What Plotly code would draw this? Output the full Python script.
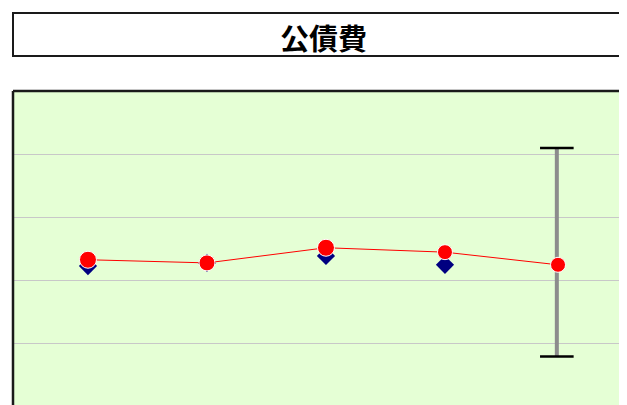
import plotly.graph_objects as go

title_text = "公債費"
categories = ["1", "2", "3", "4", "5"]
x_pos = [1, 2, 3, 4]
x_red = [1, 2, 3, 4, 4.95]
blue_values = [22.3, 22.8, 23.9, 22.5]
red_values = [23.3, 22.8, 25.2, 24.5, 22.5]
err_x = [4.94]
err_center = [22.5]
err_plus = [18.5]
err_minus = [14.5]

OFF = 8  # default page body margin
W, H = 627 - OFF, 405 - OFF
fig = go.Figure()

# error bar (gray stem)
fig.add_trace(go.Scatter(
    x=err_x, y=err_center, mode="markers",
    marker=dict(size=1, color="rgba(0,0,0,0)"),
    error_y=dict(type="data", symmetric=False, array=err_plus, arrayminus=err_minus,
                 color="#8C8C8C", thickness=4, width=0),
    showlegend=False, hoverinfo="skip"))
# caps
fig.add_trace(go.Scatter(
    x=err_x * 2,
    y=[err_center[0] + err_plus[0], err_center[0] - err_minus[0]],
    mode="markers",
    marker=dict(symbol="line-ew", size=24, line=dict(color="black", width=2.5)),
    showlegend=False, hoverinfo="skip"))

fig.add_trace(go.Scatter(
    x=x_pos, y=blue_values, mode="markers",
    marker=dict(symbol="diamond", size=14, color="#000080", opacity=1),
    showlegend=False))

fig.add_trace(go.Scatter(
    x=x_red, y=red_values, mode="lines+markers",
    line=dict(color="red", width=1),
    marker=dict(symbol="circle", size=[17, 16, 17, 15, 15], color="red", opacity=1),
    showlegend=False))

TOP = 91 - OFF
H_PLOT = H - TOP
PLOT_W = W - (13 - OFF)
def py(p):
    # p: screen pixel y
    return (H - (p - OFF)) / H_PLOT

fig.add_shape(type="rect", xref="paper", yref="paper",
              x0=0, x1=1.05, y0=py(56), y1=py(13),
              line=dict(color="#1a1a1a", width=2), fillcolor="white", layer="above")
fig.add_shape(type="line", xref="paper", yref="paper", x0=0, x1=0, y0=-0.05, y1=1,
              line=dict(color="#1a1a1a", width=2.5))
fig.add_shape(type="line", xref="paper", yref="paper", x0=0, x1=1.05, y0=1, y1=1,
              line=dict(color="#1a1a1a", width=2.5))

fig.add_annotation(text="<b>" + title_text + "</b>", xref="paper", yref="paper",
                   x=(323 - 13) / PLOT_W, y=py(37), showarrow=False,
                   font=dict(family="Noto Sans CJK JP", size=29, color="black"),
                   xanchor="center", yanchor="middle")

fig.update_layout(
    width=W, height=H,
    margin=dict(l=13 - OFF, r=0, t=TOP, b=0, pad=0),
    paper_bgcolor="white", plot_bgcolor="#E5FFD5",
    xaxis=dict(range=[0.37, 0.37 + PLOT_W / 119], showgrid=False, zeroline=False,
               showticklabels=False, ticks="", showline=False),
    yaxis=dict(range=[50 - H_PLOT / 6.32, 50], dtick=10, tick0=0, showgrid=True,
               gridcolor="#C8C8C8", gridwidth=1, zeroline=False,
               showticklabels=False, ticks="", showline=False),
)

fig.write_html(
    "out.html",
    post_script="document.documentElement.style.overflow='hidden';",
)
